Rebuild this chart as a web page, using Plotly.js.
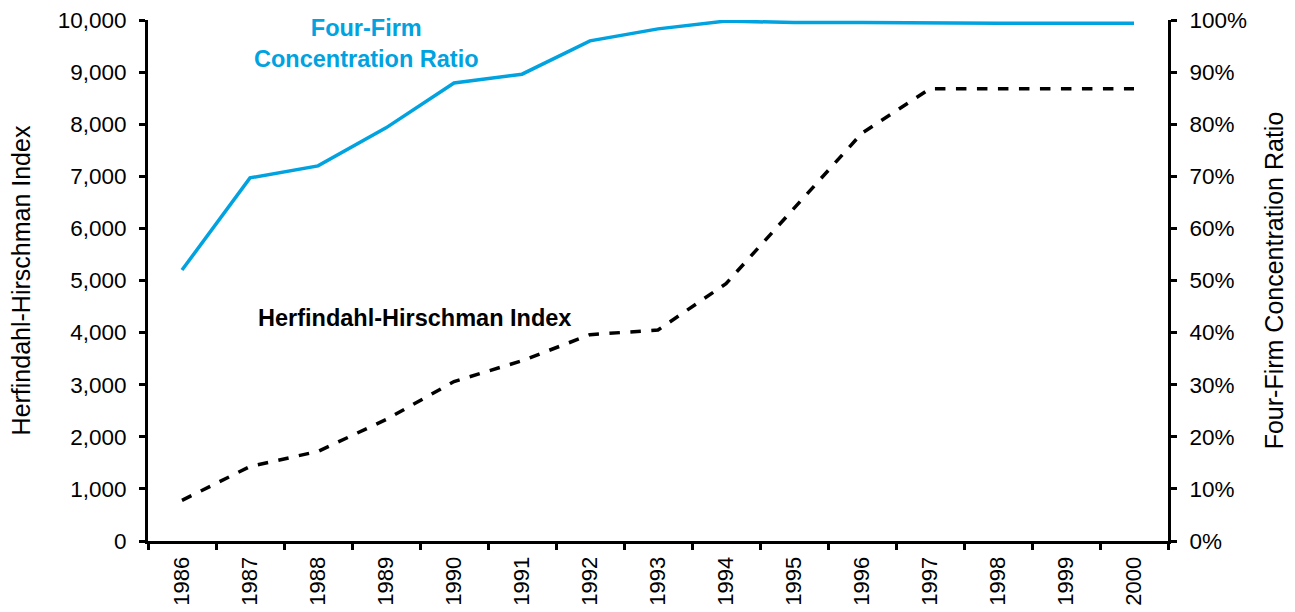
<!DOCTYPE html>
<html>
<head>
<meta charset="utf-8">
<script src="https://cdn.plot.ly/plotly-3.0.1.min.js"></script>
<style>html,body{margin:0;padding:0;background:#fff;}#chart{width:1295px;height:612px;}</style>
</head>
<body>
<div id="chart"></div>
<script>
const years = ['1986','1987','1988','1989','1990','1991','1992','1993','1994','1995','1996','1997','1998','1999','2000'];
const hhi = [780, 1430, 1720, 2330, 3060, 3460, 3960, 4050, 4940, 6390, 7830, 8680, 8680, 8680, 8680];
const fourFirm = [0.52, 0.697, 0.72, 0.793, 0.879, 0.896, 0.96, 0.983, 0.998, 0.995, 0.995, 0.994, 0.994, 0.994, 0.994];
const leftTitle = 'Herfindahl-Hirschman Index';
const rightTitle = 'Four-Firm Concentration Ratio';
const fourFirmLabel = '<b>Four-Firm<br>Concentration Ratio</b>';
const hhiLabel = '<b>Herfindahl-Hirschman Index</b>';

const font = 'Liberation Sans, Arial, sans-serif';
const L = 148, R = 1168, T = 20, B = 541.5;
const px = v => (v - L) / (R - L);
const py = v => (B - v) / (B - T);

const traces = [
  {x: years, y: hhi, type: 'scatter', mode: 'lines', name: 'HHI', yaxis: 'y',
   line: {color: '#000000', width: 3.5, dash: 'dash'}},
  {x: years, y: fourFirm, type: 'scatter', mode: 'lines', name: 'Four-Firm', yaxis: 'y2',
   line: {color: '#00A2E0', width: 3.5}}
];
const axisCommon = {showgrid: false, zeroline: false, showline: true, linecolor: '#000', linewidth: 3,
  ticks: 'outside', ticklen: 6, tickwidth: 3, tickcolor: '#000'};
const layout = {
  width: 1295, height: 612,
  margin: {l: L, r: 1295 - R, t: T, b: 612 - B},
  showlegend: false,
  paper_bgcolor: '#fff', plot_bgcolor: '#fff',
  font: {family: font, color: '#000', size: 22},
  xaxis: Object.assign({}, axisCommon, {type: 'category', range: [-0.5, 14.5], tickson: 'boundaries',
    tickangle: -90, ticklabelstandoff: 4, tickfont: {size: 22, family: font}}),
  yaxis: Object.assign({}, axisCommon, {range: [0, 10000], dtick: 1000, tickformat: ',d',
    ticklabelstandoff: 8, tickfont: {size: 22.5, family: font},
    title: {text: leftTitle, font: {size: 25, family: font}, standoff: 20}}),
  yaxis2: Object.assign({}, axisCommon, {range: [0, 1], dtick: 0.1, tickformat: '.0%', overlaying: 'y', side: 'right',
    ticklabelstandoff: 8, tickfont: {size: 22.5, family: font},
    title: {text: rightTitle, font: {size: 25, family: font}, standoff: 20}}),
  annotations: [
    {xref: 'paper', yref: 'paper', x: px(366), y: py(44), xanchor: 'center', yanchor: 'middle',
     text: fourFirmLabel, showarrow: false, font: {size: 23.5, color: '#00A2E0', family: font}, align: 'center'},
    {xref: 'paper', yref: 'paper', x: px(414), y: py(318), xanchor: 'center', yanchor: 'middle',
     text: hhiLabel, showarrow: false, font: {size: 23.5, color: '#000', family: font}, align: 'center'}
  ]
};
Plotly.newPlot('chart', traces, layout, {displayModeBar: false, staticPlot: true});
</script>
</body>
</html>
